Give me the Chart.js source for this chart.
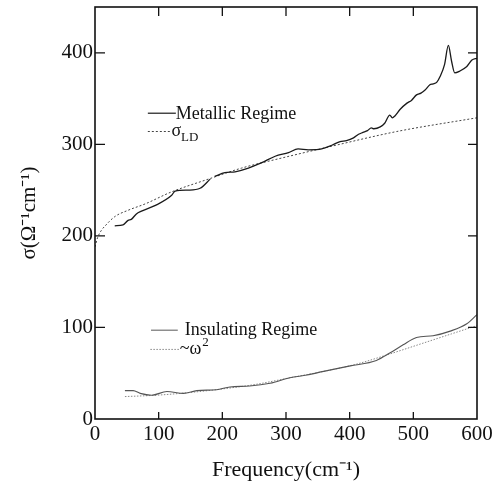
<!DOCTYPE html>
<html><head><meta charset="utf-8">
<script src="https://cdn.jsdelivr.net/npm/chart.js@4/dist/chart.umd.min.js"></script>
<style>html,body{margin:0;padding:0;background:#fff}canvas{display:block}</style>
</head><body>
<canvas id="c" width="498" height="485"></canvas>
<script>
// ---- data ----
const xTickValues = [0, 100, 200, 300, 400, 500, 600];
const yTickValues = [0, 100, 200, 300, 400];

const metallicX = [31,44,52,57,65,73,94,120,126,147,165,181,184,188,204,220,241,262,283,304,319,335,356,372,385,395,406,414,421,428,434,438,448,455,463,467,471,479,490,497,505,512,518,526,531,537,542,549,555,560,565,573,584,592,600];
const metallicY = [211,212,217,218,224,227,233,244,249,250,252,262,null,265,269,270,274,280,287,291,295,294,295,299,303,304,307,311,313,315,318,317,319,323,332,329,331,338,345,348,354,356,359,365,366,368,374,387,408,391,378,380,385,392,394];

const ldX = [0,4,10,16,31,52,79,120,178,230,293,366,474,600];
const ldY = [188,198,206,211,221,228,235,248,262,274,285,297,314,329];

const insX = [47,60,71,89,113,139,160,191,212,243,275,306,333,359,401,442,463,484,505,531,558,584,600];
const insY = [31,31,28,26,30,28,31,32,35,36,39,45,48,52,58,64,72,81,89,91,96,104,114];

const w2X = [47,97,150,202,254,306,359,411,463,516,560,600];
const w2Y = [24.5,26,29,33,38,45,52,60,71,83,93,102];

const seriesNames = ['Metallic Regime', 'σ', 'Insulating Regime', '~ω'];
const xTitle = 'Frequency(cm⁻¹)';
const yTitle = 'σ(Ω⁻¹cm⁻¹)';

const pts = (xs, ys) => xs.map((x, i) => ({x: x, y: ys[i]}));
const SERIF = '"Liberation Serif", "Times New Roman", serif';

const frame = {
  id: 'frame',
  afterDatasetsDraw(chart) {
    const {ctx, chartArea: a, scales: {x, y}} = chart;
    ctx.save();
    ctx.strokeStyle = '#111';
    ctx.lineWidth = 1.6;
    ctx.strokeRect(a.left, a.top, a.right - a.left, a.bottom - a.top);
    ctx.lineWidth = 1.3;
    ctx.beginPath();
    xTickValues.forEach(v => {
      const px = x.getPixelForValue(v);
      if (v > 0 && v < 600) {
        ctx.moveTo(px, a.bottom); ctx.lineTo(px, a.bottom - 7);
        ctx.moveTo(px, a.top); ctx.lineTo(px, a.top + 9);
      }
    });
    yTickValues.forEach(v => {
      const py = y.getPixelForValue(v);
      if (v > 0) {
        ctx.moveTo(a.left, py); ctx.lineTo(a.left + 10, py);
        ctx.moveTo(a.right, py); ctx.lineTo(a.right - 9, py);
      }
    });
    ctx.stroke();

    // legends
    const X = v => x.getPixelForValue(v), Y = v => y.getPixelForValue(v);
    ctx.fillStyle = '#111';
    ctx.textBaseline = 'middle';
    ctx.textAlign = 'left';
    const f18 = '18px ' + SERIF, f12 = '13px ' + SERIF;
    // metallic
    let ly = Y(334);
    ctx.strokeStyle = '#1a1a1a'; ctx.lineWidth = 1.2; ctx.setLineDash([]);
    ctx.beginPath(); ctx.moveTo(X(83), ly); ctx.lineTo(X(127), ly); ctx.stroke();
    ctx.font = f18; ctx.fillText(seriesNames[0], X(127), ly + 1);
    // sigma LD
    ly = Y(314);
    ctx.strokeStyle = '#444'; ctx.lineWidth = 1; ctx.setLineDash([2, 2]);
    ctx.beginPath(); ctx.moveTo(X(83), ly); ctx.lineTo(X(119), ly); ctx.stroke();
    ctx.setLineDash([]);
    ctx.font = f18; ctx.fillText(seriesNames[1], X(120), ly);
    let w = ctx.measureText(seriesNames[1]).width;
    ctx.font = f12; ctx.fillText('LD', X(120) + w, ly + 6);
    // insulating
    ly = Y(97);
    ctx.strokeStyle = '#666'; ctx.lineWidth = 1.1;
    ctx.beginPath(); ctx.moveTo(X(88), ly); ctx.lineTo(X(130), ly); ctx.stroke();
    ctx.font = f18; ctx.fillText(seriesNames[2], X(141), ly);
    // omega^2
    ly = Y(76);
    ctx.strokeStyle = '#888'; ctx.lineWidth = 1; ctx.setLineDash([1.5, 1.5]);
    ctx.beginPath(); ctx.moveTo(X(87), ly); ctx.lineTo(X(133), ly); ctx.stroke();
    ctx.setLineDash([]);
    ctx.font = f18; ctx.fillText(seriesNames[3], X(133), ly);
    w = ctx.measureText(seriesNames[3]).width;
    ctx.font = f12; ctx.fillText('2', X(133) + w + 1, ly - 7);
    ctx.restore();
  }
};

new Chart(document.getElementById('c'), {
  type: 'line',
  data: {
    datasets: [
      {data: pts(metallicX, metallicY), borderColor: '#1a1a1a', borderWidth: 1.3, spanGaps: false},
      {data: pts(ldX, ldY), borderColor: '#444', borderWidth: 1, borderDash: [2, 2]},
      {data: pts(insX, insY), borderColor: '#555', borderWidth: 1.1},
      {data: pts(w2X, w2Y), borderColor: '#888', borderWidth: 1, borderDash: [1.5, 1.5]}
    ]
  },
  options: {
    responsive: false,
    animation: false,
    devicePixelRatio: 1,
    elements: {point: {radius: 0}, line: {cubicInterpolationMode: 'monotone', fill: false}},
    layout: {autoPadding: false, padding: {top: 7, right: 21, left: 0, bottom: 0}},
    plugins: {legend: {display: false}, tooltip: {enabled: false}},
    scales: {
      x: {
        type: 'linear', min: 0, max: 600,
        afterBuildTicks: s => { s.ticks = xTickValues.map(v => ({value: v})); },
        afterFit: s => { s.height = 66; s.paddingLeft = 0; s.paddingRight = 0; },
        grid: {display: false, drawTicks: false},
        border: {display: false},
        ticks: {color: '#111', font: {family: SERIF, size: 21}, padding: 3, maxRotation: 0, autoSkip: false},
        title: {display: true, text: xTitle, color: '#111', font: {family: SERIF, size: 22}, padding: {top: 0, bottom: 2}}
      },
      y: {
        type: 'linear', min: 0, max: 450,
        afterBuildTicks: s => { s.ticks = yTickValues.map(v => ({value: v})); },
        afterFit: s => { s.width = 95; s.paddingTop = 0; s.paddingBottom = 0; },
        grid: {display: false, drawTicks: false},
        border: {display: false},
        ticks: {color: '#111', font: {family: SERIF, size: 21}, padding: 2},
        title: {display: true, text: yTitle, color: '#111', font: {family: SERIF, size: 21}, padding: {top: 17, bottom: 0}}
      }
    }
  },
  plugins: [frame]
});
</script>
</body></html>
